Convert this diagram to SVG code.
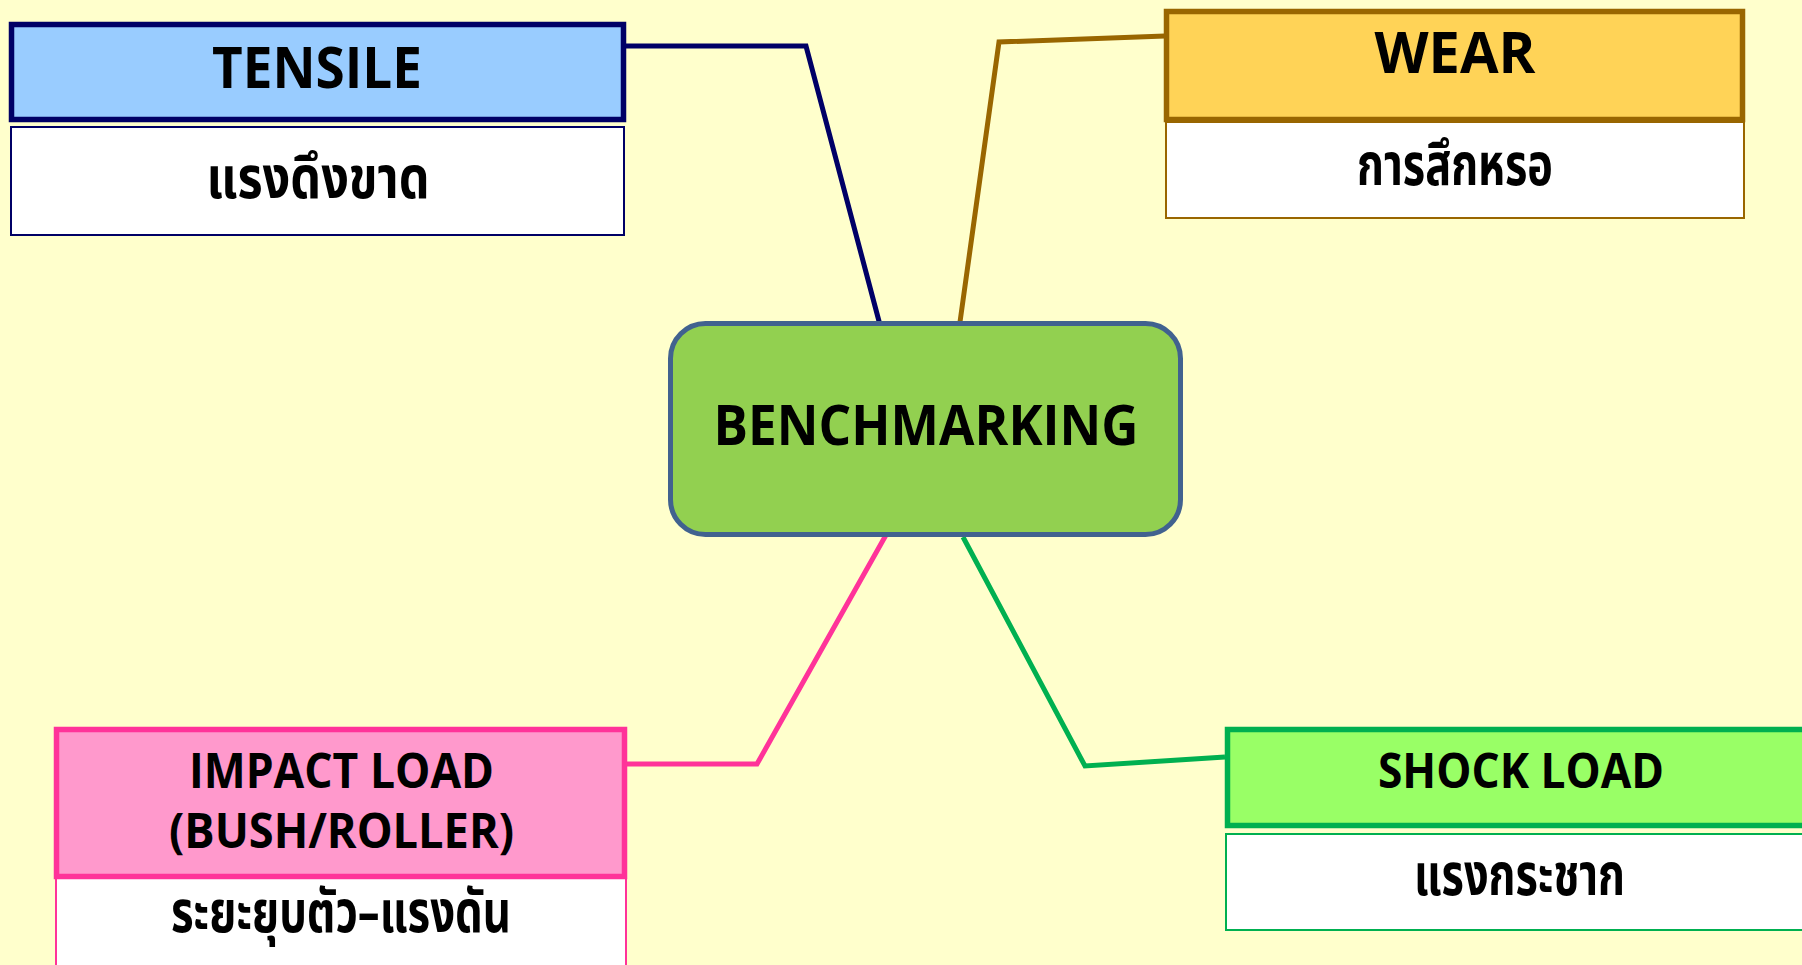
<svg xmlns="http://www.w3.org/2000/svg" width="1802" height="965" viewBox="0 0 1802 965">
<style>
.en{font-family:"Open Sans","Liberation Sans",sans-serif;font-weight:bold;fill:#000;text-anchor:middle}
.th{font-family:"Noto Sans Thai","Noto Sans","DejaVu Sans",sans-serif;font-weight:bold;fill:#000;text-anchor:middle}
.con{fill:none;stroke-width:5;stroke-linejoin:miter}
.sub{fill:#FFFFFF;stroke-width:2}
.head{stroke-width:5.5}
</style>
<rect x="0" y="0" width="1802" height="965" fill="#FFFFCC"/>
<g id="connectors">
<polyline class="con" stroke="#000066" points="623,46 806,46 880,325"/>
<polyline class="con" stroke="#996600" points="1165,36 999,42 960,322"/>
<polyline class="con" stroke="#FF3399" points="627,764 757,764 886,535"/>
<polyline class="con" stroke="#00B050" points="1225,757 1085,766 963,537"/>
</g>
<g id="center">
<rect x="670.5" y="323.5" width="510" height="211" rx="35" ry="35" fill="#92D050" stroke="#41628F" stroke-width="5"/>
<text class="en" x="926" y="445" font-size="55" textLength="425" lengthAdjust="spacingAndGlyphs">BENCHMARKING</text>
</g>
<g id="tensile">
<rect class="sub" x="11" y="127" width="613" height="108" stroke="#000066"/>
<rect class="head" x="11.5" y="24.5" width="612" height="95" fill="#99CCFF" stroke="#000066"/>
<text class="en" x="317" y="88" font-size="58" textLength="210" lengthAdjust="spacingAndGlyphs">TENSILE</text>
<text class="th" x="318" y="198" font-size="58" textLength="223" lengthAdjust="spacingAndGlyphs">แรงดึงขาด</text>
</g>
<g id="wear">
<rect class="sub" x="1166" y="122" width="578" height="96" stroke="#996600"/>
<rect class="head" x="1166.5" y="11.5" width="576" height="108" fill="#FFD357" stroke="#996600"/>
<text class="en" x="1455" y="73" font-size="57" textLength="161" lengthAdjust="spacingAndGlyphs">WEAR</text>
<text class="th" x="1455" y="185" font-size="58" textLength="196" lengthAdjust="spacingAndGlyphs">การสึกหรอ</text>
</g>
<g id="impact">
<rect class="sub" x="56" y="878" width="570" height="100" stroke="#FF3399"/>
<rect class="head" x="56.5" y="729.5" width="568" height="147" fill="#FF99CC" stroke="#FF3399"/>
<text class="en" x="341.5" y="788" font-size="49" textLength="305" lengthAdjust="spacingAndGlyphs">IMPACT LOAD</text>
<text class="en" x="341.5" y="848" font-size="49" textLength="345" lengthAdjust="spacingAndGlyphs">(BUSH/ROLLER)</text>
<text class="th" x="341" y="932" font-size="58" textLength="340" lengthAdjust="spacingAndGlyphs">ระยะยุบตัว–แรงดัน</text>
</g>
<g id="shock">
<rect class="sub" x="1226" y="834" width="590" height="96" stroke="#00B050"/>
<rect class="head" x="1227.5" y="729.5" width="590" height="96" fill="#99FF66" stroke="#00B050"/>
<text class="en" x="1521" y="788" font-size="49" textLength="286" lengthAdjust="spacingAndGlyphs">SHOCK LOAD</text>
<text class="th" x="1519.5" y="895" font-size="58" textLength="211" lengthAdjust="spacingAndGlyphs">แรงกระชาก</text>
</g>
</svg>
